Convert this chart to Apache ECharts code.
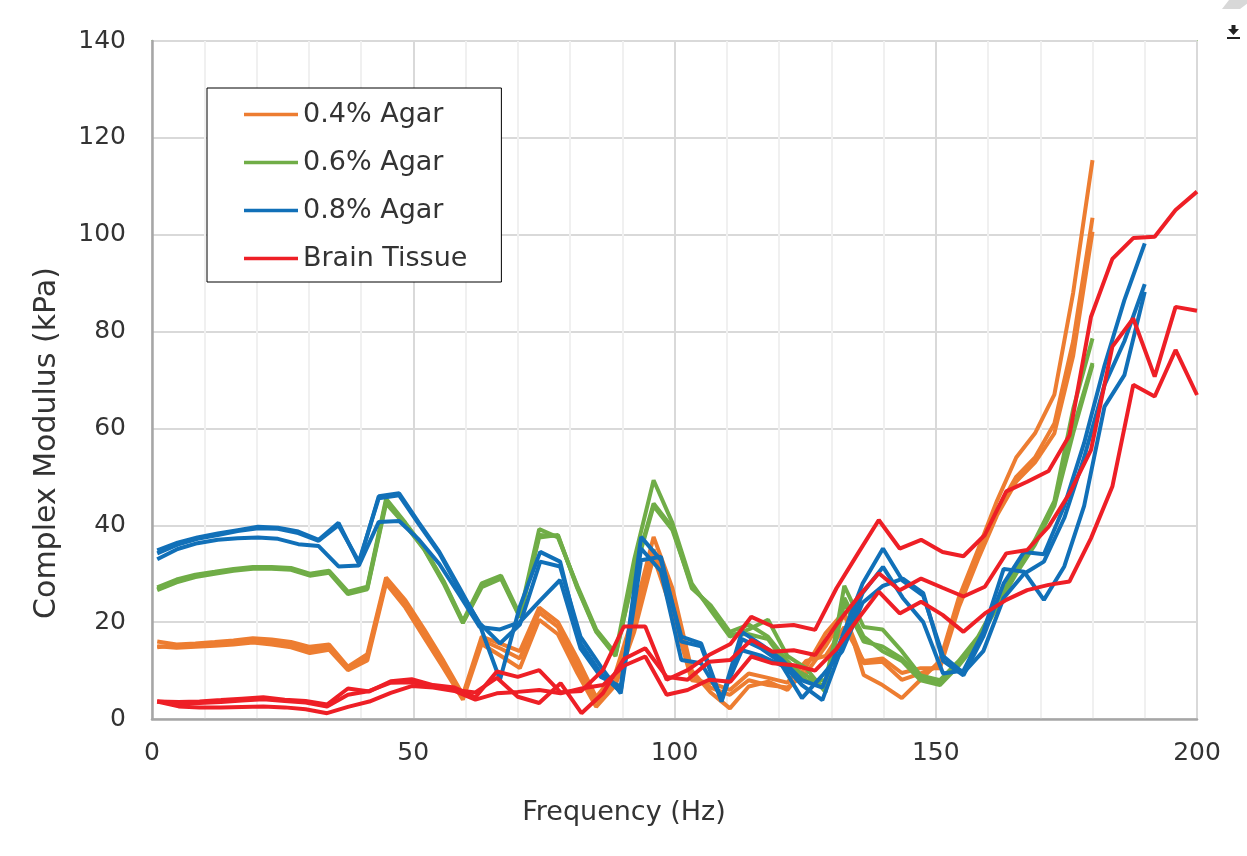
<!DOCTYPE html>
<html>
<head>
<meta charset="utf-8">
<title>Complex Modulus vs Frequency</title>
<script src="https://cdn.jsdelivr.net/npm/echarts@6/dist/echarts.min.js"></script>
<style>
  html, body { margin: 0; padding: 0; background: #ffffff; }
  #chart { width: 1247px; height: 856px; }
</style>
</head>
<body>
<div id="chart"></div>
<script>
// Frequency samples (Hz) for each material group
const freqAgar = [1, 4.7, 8.3, 12, 15.6, 19.3, 22.9, 26.6, 30.2, 33.9, 37.5, 41.2, 44.8, 48.5, 52.1, 55.8, 59.5, 63.1, 66.8, 70.4,
  74.1, 77.7, 81.4, 85, 88.7, 92.3, 96, 99.6, 103.3, 106.9, 110.6, 114.2, 117.9, 121.6, 125.2, 128.9, 132.5, 136.2, 139.8, 143.5,
  147.1, 150.8, 154.4, 158.1, 161.7, 165.4, 169, 172.7, 176.3, 180];
const freqAgar08 = [1, 4.9, 8.7, 12.6, 16.4, 20.3, 24.1, 28, 31.9, 35.7, 39.6, 43.4, 47.3, 51.1, 55, 58.9, 62.7, 66.6, 70.4, 74.3,
  78.1, 82, 85.9, 89.7, 93.6, 97.4, 101.3, 105.1, 109, 112.9, 116.7, 120.6, 124.4, 128.3, 132.1, 136, 139.9, 143.7, 147.6, 151.4,
  155.3, 159.1, 163, 166.9, 170.7, 174.6, 178.4, 182.3, 186.1, 190];
const freqBrain = [1, 5.1, 9.1, 13.2, 17.2, 21.3, 25.4, 29.4, 33.5, 37.5, 41.6, 45.7, 49.7, 53.8, 57.9, 61.9, 66, 70, 74.1, 78.2,
  82.2, 86.3, 90.3, 94.4, 98.5, 102.5, 106.6, 110.7, 114.7, 118.8, 122.8, 126.9, 131, 135, 139.1, 143.1, 147.2, 151.3, 155.3, 159.4,
  163.5, 167.5, 171.6, 175.6, 179.7, 183.8, 187.8, 191.9, 195.9, 200];

// 0.4% agar samples (kPa)
const agar04A = [16.0, 15.4, 15.6, 15.9, 16.2, 16.7, 16.4, 15.9, 14.9, 15.4, 10.8, 13.4, 29.2,
  24.5, 18.5, 12.0, 5.0, 17.0, 15.5, 14.0, 23.0, 20.0, 12.5, 4.5, 9.5,
  22.0, 37.6, 27.0, 10.0, 5.5, 2.2, 6.7, 7.7, 6.0, 10.8, 17.7, 22.2,
  9.1, 7.0, 4.3, 8.1, 12.0, 25, 35, 45, 54, 59, 67, 88, 115.4];
const agar04B = [14.8, 15.3, 15.2, 15.5, 15.9, 16.2, 16.0, 15.4, 14.2, 14.8, 10.5, 12.8, 28.6,
  23.8, 17.5, 11.0, 4.5, 16.3, 14.5, 12.5, 22.0, 19.0, 11.0, 3.5, 8.0,
  20.0, 35.0, 24.0, 9.0, 6.5, 5.0, 8.0, 7.0, 6.5, 9.5, 15.0, 21.5,
  11.5, 11.8, 8.1, 9.4, 11.0, 24, 34, 43, 50, 54, 61, 78, 103.5];
const agar04C = [15.0, 14.7, 14.9, 15.1, 15.4, 15.8, 15.4, 14.8, 13.6, 14.3, 10.1, 12.1, 28.0,
  23.0, 16.8, 10.5, 4.0, 15.5, 13.0, 10.5, 20.5, 17.5, 9.5, 2.5, 7.0,
  18.0, 33.5, 22.0, 8.0, 7.5, 6.0, 9.4, 8.5, 7.5, 12.0, 13.0, 19.0,
  12.0, 12.5, 9.5, 10.5, 10.5, 23, 33, 42, 49, 53, 59, 75, 100.6];

// 0.6% agar samples (kPa)
const agar06A = [27.2, 28.8, 29.8, 30.4, 31.0, 31.4, 31.4, 31.2, 30.0, 30.6, 26.3, 27.3, 45.5,
  40.5, 35.3, 28.5, 20.2, 28.0, 29.6, 21.5, 39.2, 37.5, 27.5, 18.5, 13.5,
  33.0, 49.3, 40.5, 28.0, 22.5, 17.0, 18.5, 20.5, 13.0, 10.5, 5.5, 27.5,
  19.0, 18.5, 14.0, 9.0, 8.0, 12.0, 17.0, 24.0, 31.0, 37.0, 45.0, 64.0, 78.6];
const agar06B = [26.6, 28.2, 29.3, 30.0, 30.6, 31.0, 31.0, 30.8, 29.6, 30.2, 25.8, 26.8, 44.5,
  40.0, 35.0, 28.0, 19.8, 27.2, 29.0, 21.0, 37.5, 38.0, 27.0, 18.0, 13.0,
  30.5, 44.5, 39.5, 27.0, 23.5, 18.0, 19.5, 17.0, 12.0, 8.0, 8.0, 25.0,
  17.0, 14.0, 12.0, 8.0, 7.0, 11.0, 16.0, 23.0, 30.0, 36.0, 44.0, 59.0, 73.1];
const agar06C = [26.8, 28.4, 29.5, 30.2, 30.8, 31.2, 31.2, 31.0, 29.8, 30.4, 26.0, 27.0, 45.0,
  40.2, 35.1, 28.3, 20.0, 27.5, 29.3, 21.2, 38.0, 37.8, 27.2, 18.2, 13.2,
  30.0, 44.0, 39.0, 27.5, 23.0, 17.5, 17.5, 16.5, 11.0, 9.0, 6.5, 24.0,
  16.0, 15.0, 12.5, 8.5, 7.5, 11.5, 16.5, 23.5, 30.5, 36.5, 44.5, 60.0, 73.5];

// 0.8% agar samples (kPa)
const agar08A = [34.8, 36.4, 37.5, 38.3, 39.0, 39.7, 39.5, 38.7, 37.0, 40.5, 32.1, 46.0, 46.6,
  40.5, 34.5, 27.0, 19.5, 8.1, 23.2, 34.5, 32.5, 15.6, 9.4, 5.6, 37.6,
  32.8, 17.0, 15.6, 3.9, 18.0, 15.3, 12.2, 8.0, 6.5,
  17.0, 28.0, 35.2, 28.5, 25.5, 13.0, 9.5,
  14.0, 25.0, 30.0, 32.5, 41.5, 54.0, 69.0, 78.0, 89.8];
const agar08B = [33.0, 35.1, 36.3, 37.0, 37.3, 37.5, 37.2, 36.1, 35.7, 31.5, 31.7, 40.7, 40.9,
  37.0, 32.0, 25.5, 19.0, 18.5, 20.0, 24.5, 28.7, 14.6, 8.7, 6.7, 35.2,
  30.5, 12.2, 11.5, 4.5, 14.2, 13.0, 11.0, 4.3, 9.0,
  14.0, 24.0, 27.5, 29.0, 26.0, 12.0, 9.0,
  17.0, 28.0, 34.5, 34.0, 44.0, 57.0, 73.0, 86.5, 98.2];
const agar08C = [34.2, 36.0, 37.2, 38.0, 38.8, 39.4, 39.3, 38.4, 36.8, 40.0, 32.5, 45.6, 46.2,
  40.2, 34.2, 26.6, 19.8, 15.6, 19.5, 32.5, 31.5, 17.0, 10.8, 5.3, 32.8,
  33.5, 16.0, 15.0, 3.6, 16.5, 14.5, 11.5, 7.0, 3.9,
  15.0, 26.0, 31.4, 25.0, 20.0, 9.4, 10.0,
  18.0, 31.0, 30.4, 24.6, 31.5, 44.0, 64.5, 71.0, 88.2];

// Brain tissue samples (kPa)
const brainA = [3.6, 3.5, 3.6, 3.9, 4.2, 4.5, 4.0, 3.7, 3.0, 6.3, 5.7, 7.8, 8.2, 7.0, 6.5,
  4.5, 9.8, 8.7, 10.1, 5.5, 5.8, 10.1, 19.1, 19.1,
  8.1, 10.1, 13.2, 15.5, 21.1, 19.1, 19.4, 18.4, 27.0, 34.0, 41.1, 35.2, 37.0, 34.5,
  33.6, 38.0, 47.0, 49.0, 51.2, 58.6, 83.0, 95.0, 99.3, 99.6, 105.1, 108.9];
const brainB = [3.6, 3.3, 3.3, 3.5, 3.8, 4.1, 3.7, 3.4, 2.6, 5.0, 5.8, 7.5, 7.6, 6.8, 6.0,
  5.5, 8.5, 4.6, 3.3, 7.4, 1.2, 5.3, 12.4, 14.6,
  8.7, 8.1, 11.8, 12.2, 16.3, 13.9, 14.2, 13.2, 19.5, 25.0, 30.1, 26.6, 29.0, 27.1,
  25.3, 27.3, 34.2, 34.9, 39.7, 46.6, 55.5, 76.9, 82.7, 70.7, 85.1, 84.3];
const brainC = [3.6, 2.6, 2.4, 2.4, 2.5, 2.6, 2.4, 2.0, 1.2, 2.5, 3.6, 5.4, 6.8, 6.5, 5.8,
  4.0, 5.3, 5.6, 6.0, 5.3, 6.3, 7.0, 11.0, 12.9,
  5.0, 6.0, 8.1, 7.7, 12.9, 11.5, 11.1, 10.0, 14.5, 20.5, 26.3, 21.8, 24.2, 21.5,
  18.0, 21.8, 24.6, 26.6, 27.7, 28.4, 37.3, 48.0, 69.0, 66.6, 76.2, 66.9];

const groupNames = ['0.4% Agar', '0.6% Agar', '0.8% Agar', 'Brain Tissue'];
const groupColors = ['#ed7d31', '#70ad47', '#1170b8', '#ee1f26'];
const groups = [
  { freq: freqAgar, runs: [agar04A, agar04B, agar04C] },
  { freq: freqAgar, runs: [agar06A, agar06B, agar06C] },
  { freq: freqAgar08, runs: [agar08A, agar08B, agar08C] },
  { freq: freqBrain, runs: [brainA, brainB, brainC] }
];

const FONT = 'DejaVu Sans';
const TEXT = '#333333';

const series = [];
groups.forEach((g, gi) => {
  g.runs.forEach(run => {
    series.push({
      name: groupNames[gi],
      type: 'line',
      symbol: 'none',
      showSymbol: false,
      animation: false,
      z: 2 + gi,
      color: groupColors[gi],
      lineStyle: { width: 4, color: groupColors[gi] },
      data: g.freq.map((f, i) => [f, run[i]])
    });
  });
});

const chart = echarts.init(document.getElementById('chart'), null, { renderer: 'canvas' });
chart.setOption({
  backgroundColor: '#ffffff',
  animation: false,
  textStyle: { fontFamily: FONT },
  grid: {
    left: 152, right: 50, top: 41, bottom: 137,
    show: true, borderColor: '#70ad47', borderWidth: 1.5, backgroundColor: 'transparent'
  },
  legend: {
    data: groupNames,
    orient: 'vertical',
    left: 207, top: 88,
    padding: [13, 34, 10, 37],
    icon: 'rect',
    itemWidth: 54, itemHeight: 3.5, itemGap: 21,
    backgroundColor: '#ffffff',
    borderColor: '#000000', borderWidth: 1,
    textStyle: { fontFamily: FONT, fontSize: 27, color: TEXT, lineHeight: 27 },
    selectedMode: false
  },
  xAxis: {
    type: 'value', min: 0, max: 200, interval: 50,
    axisLine: { show: true, lineStyle: { color: '#a6a6a6', width: 2.5 } },
    axisTick: { show: false },
    axisLabel: { fontFamily: FONT, fontSize: 25, color: TEXT, margin: 22 },
    splitLine: { show: true, lineStyle: { color: '#d9d9d9', width: 2 } },
    minorTick: { show: false, splitNumber: 5 },
    minorSplitLine: { show: true, lineStyle: { color: '#f0f0f0', width: 2 } }
  },
  yAxis: {
    type: 'value', min: 0, max: 140, interval: 20,
    axisLine: { show: true, lineStyle: { color: '#a6a6a6', width: 2.5 } },
    axisTick: { show: false },
    axisLabel: { fontFamily: FONT, fontSize: 25, color: TEXT, margin: 26 },
    splitLine: { show: true, lineStyle: { color: '#d9d9d9', width: 2 } }
  },
  graphic: [
    // axis titles, centred on the whole chart box
    {
      type: 'text', x: 624, y: 813, z: 10,
      style: { text: 'Frequency (Hz)', fontFamily: FONT, fontSize: 27, fill: TEXT, align: 'center', verticalAlign: 'middle' }
    },
    {
      type: 'text', x: 47, y: 443, rotation: Math.PI / 2, z: 10,
      style: { text: 'Complex Modulus (kPa)', fontFamily: FONT, fontSize: 30, fill: TEXT, align: 'center', verticalAlign: 'middle' }
    },
    // light corner stripe
    {
      type: 'polygon', z: 10,
      shape: { points: [[1229, 0], [1252, 0], [1240, 9], [1222, 9]] },
      style: { fill: '#d8d8d8' }
    },
    // download glyph in the corner
    { type: 'rect', z: 10, shape: { x: 1231.5, y: 25, width: 4, height: 5 }, style: { fill: '#222' } },
    { type: 'polygon', z: 10, shape: { points: [[1228, 29], [1239, 29], [1233.5, 35]] }, style: { fill: '#222' } },
    { type: 'rect', z: 10, shape: { x: 1227, y: 37, width: 13, height: 2 }, style: { fill: '#222' } }
  ],
  series: series
});
</script>
</body>
</html>
